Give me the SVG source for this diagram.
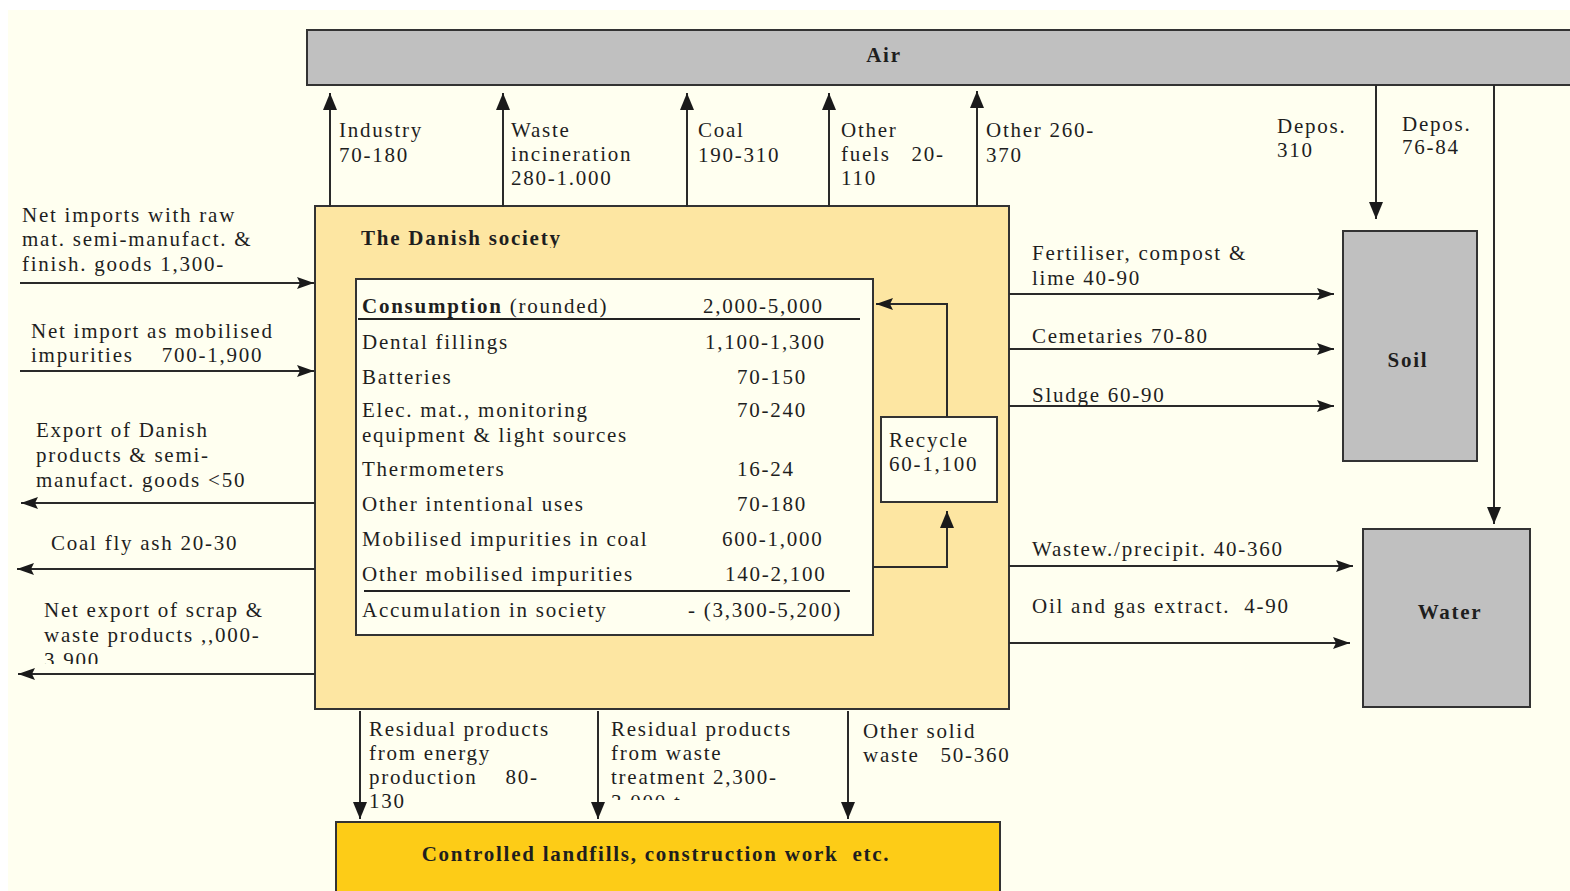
<svg xmlns="http://www.w3.org/2000/svg" width="1570" height="891" viewBox="0 0 1570 891">
  <style>
    .t { font-family: "Liberation Serif", "Times New Roman", serif; font-size: 21px; letter-spacing: 1.75px; fill: #1e1e1e; white-space: pre; }
    .b { font-weight: bold; }
    .m { text-anchor: middle; }
    .box { stroke: #333; stroke-width: 2; }
    .flow { fill: none; stroke: #2a2a2a; stroke-width: 2; }
  </style>
  <defs>
    <marker id="ah" markerUnits="userSpaceOnUse" markerWidth="18" markerHeight="14" refX="17" refY="7" orient="auto">
      <path d="M0,1 L17,7 L0,13 L3,7 z" fill="#1a1a1a"/>
    </marker>
    <marker id="av" markerUnits="userSpaceOnUse" markerWidth="18" markerHeight="16" refX="17" refY="8" orient="auto">
      <path d="M0,1 L17,8 L0,15 z" fill="#1a1a1a"/>
    </marker>
    <clipPath id="clipScrap"><rect x="0" y="600" width="320" height="64"/></clipPath>
    <clipPath id="clipWaste"><rect x="600" y="700" width="240" height="100"/></clipPath>
    <clipPath id="clipTitle"><rect x="340" y="220" width="300" height="28"/></clipPath>
  </defs>

  <!-- page background -->
  <rect x="0" y="0" width="1570" height="891" fill="#ffffff"/>
  <rect x="8" y="10" width="1562" height="881" fill="#fffff0"/>

  <!-- Air -->
  <g id="air">
    <rect class="box" x="307" y="30" width="1270" height="55" fill="#c0c0c0"/>
    <text class="t b m" x="884" y="62">Air</text>
  </g>

  <!-- The Danish society -->
  <g id="society">
    <rect class="box" x="315" y="206" width="694" height="503" fill="#fde6a2"/>
    <text class="t b" x="361" y="245" clip-path="url(#clipTitle)">The Danish society</text>
  </g>

  <!-- Consumption table -->
  <g id="consumption">
    <rect class="box" x="356" y="279" width="517" height="356" fill="#fffff0"/>
    <line x1="358" y1="319" x2="860" y2="319" stroke="#222" stroke-width="2"/>
    <line x1="364" y1="591" x2="850" y2="591" stroke="#222" stroke-width="2"/>
    <text class="t" x="362" y="313"><tspan class="b">Consumption</tspan> (rounded)</text>
    <text class="t" x="703" y="313">2,000-5,000</text>
    <text class="t" x="362" y="349">Dental fillings</text>
    <text class="t" x="705" y="349">1,100-1,300</text>
    <text class="t" x="362" y="384">Batteries</text>
    <text class="t" x="737" y="384">70-150</text>
    <text class="t" x="362" y="417">Elec. mat., monitoring</text>
    <text class="t" x="737" y="417">70-240</text>
    <text class="t" x="362" y="442">equipment &amp; light sources</text>
    <text class="t" x="362" y="476">Thermometers</text>
    <text class="t" x="737" y="476">16-24</text>
    <text class="t" x="362" y="511">Other intentional uses</text>
    <text class="t" x="737" y="511">70-180</text>
    <text class="t" x="362" y="546">Mobilised impurities in coal</text>
    <text class="t" x="722" y="546">600-1,000</text>
    <text class="t" x="362" y="581">Other mobilised impurities</text>
    <text class="t" x="725" y="581">140-2,100</text>
    <text class="t" x="362" y="617">Accumulation in society</text>
    <text class="t" x="688" y="617">- (3,300-5,200)</text>
  </g>

  <!-- Recycle -->
  <g id="recycle">
    <rect class="box" x="881" y="417" width="116" height="85" fill="#fffff0"/>
    <text class="t" x="889" y="447">Recycle</text>
    <text class="t" x="889" y="471">60-1,100</text>
  </g>

  <!-- Soil -->
  <g id="soil">
    <rect class="box" x="1343" y="231" width="134" height="230" fill="#c0c0c0"/>
    <text class="t b m" x="1408" y="367">Soil</text>
  </g>

  <!-- Water -->
  <g id="water">
    <rect class="box" x="1363" y="529" width="167" height="178" fill="#c0c0c0"/>
    <text class="t b m" x="1450" y="619">Water</text>
  </g>

  <!-- Controlled landfills -->
  <g id="landfills">
    <rect class="box" x="336" y="822" width="664" height="80" fill="#fdcc17"/>
    <text class="t b m" x="656" y="861">Controlled landfills, construction work  etc.</text>
  </g>

  <!-- flows -->
  <g id="connectors">
    <!-- emissions to air -->
    <line class="flow" x1="330" y1="207" x2="330" y2="93" marker-end="url(#av)"/>
    <line class="flow" x1="503" y1="207" x2="503" y2="93" marker-end="url(#av)"/>
    <line class="flow" x1="687" y1="207" x2="687" y2="93" marker-end="url(#av)"/>
    <line class="flow" x1="829" y1="207" x2="829" y2="93" marker-end="url(#av)"/>
    <line class="flow" x1="977" y1="207" x2="977" y2="91" marker-end="url(#av)"/>
    <!-- deposition -->
    <line class="flow" x1="1376" y1="85" x2="1376" y2="219" marker-end="url(#av)"/>
    <line class="flow" x1="1494" y1="85" x2="1494" y2="524" marker-end="url(#av)"/>
    <!-- imports / exports -->
    <line class="flow" x1="20" y1="283" x2="314" y2="283" marker-end="url(#ah)"/>
    <line class="flow" x1="20" y1="371" x2="314" y2="371" marker-end="url(#ah)"/>
    <line class="flow" x1="315" y1="503" x2="21" y2="503" marker-end="url(#ah)"/>
    <line class="flow" x1="315" y1="569" x2="17" y2="569" marker-end="url(#ah)"/>
    <line class="flow" x1="315" y1="674" x2="18" y2="674" marker-end="url(#ah)"/>
    <!-- to soil and water -->
    <line class="flow" x1="1009" y1="294" x2="1334" y2="294" marker-end="url(#ah)"/>
    <line class="flow" x1="1009" y1="349" x2="1334" y2="349" marker-end="url(#ah)"/>
    <line class="flow" x1="1009" y1="406" x2="1334" y2="406" marker-end="url(#ah)"/>
    <line class="flow" x1="1009" y1="566" x2="1353" y2="566" marker-end="url(#ah)"/>
    <line class="flow" x1="1009" y1="643" x2="1350" y2="643" marker-end="url(#ah)"/>
    <!-- recycling loop -->
    <polyline class="flow" points="947,417 947,304 876,304" marker-end="url(#ah)"/>
    <polyline class="flow" points="873,567 947,567 947,511" marker-end="url(#av)"/>
    <!-- to landfills -->
    <line class="flow" x1="360" y1="711" x2="360" y2="819" marker-end="url(#av)"/>
    <line class="flow" x1="598" y1="711" x2="598" y2="819" marker-end="url(#av)"/>
    <line class="flow" x1="848" y1="711" x2="848" y2="819" marker-end="url(#av)"/>
  </g>

  <!-- flow labels -->
  <g id="labels">
    <text class="t" x="339" y="137">Industry</text>
    <text class="t" x="339" y="162">70-180</text>
    <text class="t" x="511" y="137">Waste</text>
    <text class="t" x="511" y="161">incineration</text>
    <text class="t" x="511" y="185">280-1.000</text>
    <text class="t" x="698" y="137">Coal</text>
    <text class="t" x="698" y="162">190-310</text>
    <text class="t" x="841" y="137">Other</text>
    <text class="t" x="841" y="161">fuels   20-</text>
    <text class="t" x="841" y="185">110</text>
    <text class="t" x="986" y="137">Other 260-</text>
    <text class="t" x="986" y="162">370</text>
    <text class="t" x="1277" y="133">Depos.</text>
    <text class="t" x="1277" y="157">310</text>
    <text class="t" x="1402" y="131">Depos.</text>
    <text class="t" x="1402" y="154">76-84</text>

    <text class="t" x="22" y="222">Net imports with raw</text>
    <text class="t" x="22" y="246">mat. semi-manufact. &amp;</text>
    <text class="t" x="22" y="271">finish. goods 1,300-</text>
    <text class="t" x="31" y="338">Net import as mobilised</text>
    <text class="t" x="31" y="362">impurities    700-1,900</text>
    <text class="t" x="36" y="437">Export of Danish</text>
    <text class="t" x="36" y="462">products &amp; semi-</text>
    <text class="t" x="36" y="487">manufact. goods &lt;50</text>
    <text class="t" x="51" y="550">Coal fly ash 20-30</text>
    <text class="t" x="44" y="617">Net export of scrap &amp;</text>
    <text class="t" x="44" y="642">waste products ,,000-</text>
    <text class="t" x="44" y="667" clip-path="url(#clipScrap)">3,900</text>

    <text class="t" x="1032" y="260">Fertiliser, compost &amp;</text>
    <text class="t" x="1032" y="285">lime 40-90</text>
    <text class="t" x="1032" y="343">Cemetaries 70-80</text>
    <text class="t" x="1032" y="402">Sludge 60-90</text>
    <text class="t" x="1032" y="556">Wastew./precipit. 40-360</text>
    <text class="t" x="1032" y="613">Oil and gas extract.  4-90</text>

    <text class="t" x="369" y="736">Residual products</text>
    <text class="t" x="369" y="760">from energy</text>
    <text class="t" x="369" y="784">production    80-</text>
    <text class="t" x="369" y="808">130</text>
    <text class="t" x="611" y="736">Residual products</text>
    <text class="t" x="611" y="760">from waste</text>
    <text class="t" x="611" y="784">treatment 2,300-</text>
    <text class="t" x="611" y="809" clip-path="url(#clipWaste)">3,000 t</text>
    <text class="t" x="863" y="738">Other solid</text>
    <text class="t" x="863" y="762">waste   50-360</text>
  </g>
</svg>
